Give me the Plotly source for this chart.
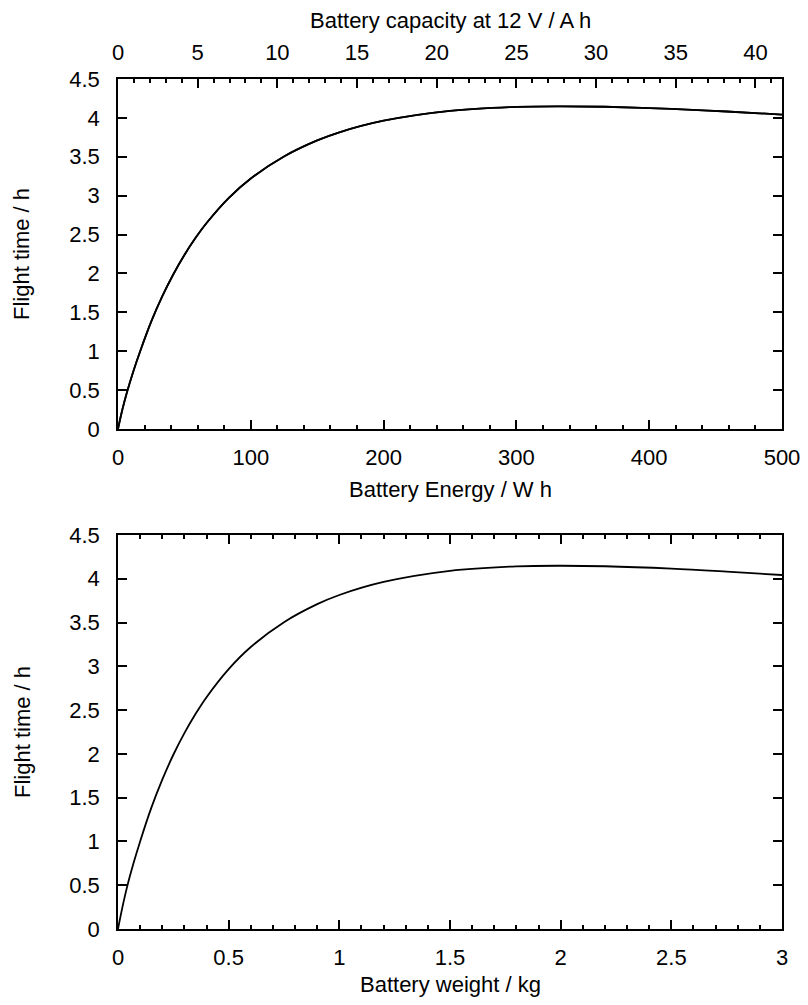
import plotly.graph_objects as go

# Data (same curve in both panels)
energy_wh = [0, 3.3, 6.7, 11.7, 16.7, 25, 33.3, 41.7, 50, 58.3, 66.7, 83.3, 100, 125, 150, 166.7,
             200, 250, 300, 333.3, 366.7, 416.7, 458.3, 500]
weight_kg = [0, 0.02, 0.04, 0.07, 0.1, 0.15, 0.2, 0.25, 0.3, 0.35, 0.4, 0.5, 0.6, 0.75, 0.9, 1.0,
             1.2, 1.5, 1.8, 2.0, 2.2, 2.5, 2.75, 3.0]
flight_h = [0, 0.25, 0.47, 0.75, 1.0, 1.38, 1.705, 1.99, 2.237, 2.455, 2.648, 2.969, 3.221, 3.504, 3.71, 3.815,
            3.964, 4.091, 4.142, 4.149, 4.143, 4.116, 4.082, 4.043]
battery_voltage = 12
capacity_ah = [e / battery_voltage for e in energy_wh]

energy_ticks = [0, 100, 200, 300, 400, 500]
capacity_ticks = [0, 5, 10, 15, 20, 25, 30, 35, 40]
weight_ticks = [0, 0.5, 1, 1.5, 2, 2.5, 3]
weight_ticktext = ["0", "0.5", "1", "1.5", "2", "2.5", "3"]
time_ticks = [0, 0.5, 1, 1.5, 2, 2.5, 3, 3.5, 4, 4.5]
time_ticktext = ["0", "0.5", "1", "1.5", "2", "2.5", "3", "3.5", "4", "4.5"]

W, H = 808, 1005
FONT = dict(family="Liberation Sans, Arial, sans-serif", size=22, color="black")

x0, x1 = 118, 782
top_y0, top_y1 = 79, 429
bot_y0, bot_y1 = 535, 929
xdom = [x0 / W, x1 / W]
ydom_top = [1 - top_y1 / H, 1 - top_y0 / H]
ydom_bot = [1 - bot_y1 / H, 1 - bot_y0 / H]

LINE = dict(color="black", width=1.8, shape="spline", smoothing=1.0)

fig = go.Figure()
fig.add_trace(go.Scatter(x=energy_wh, y=flight_h, mode="lines", line=LINE,
                         xaxis="x", yaxis="y", showlegend=False, hoverinfo="skip"))
fig.add_trace(go.Scatter(x=capacity_ah, y=flight_h, mode="lines", line=LINE,
                         xaxis="x3", yaxis="y", showlegend=False, hoverinfo="skip"))
fig.add_trace(go.Scatter(x=weight_kg, y=flight_h, mode="lines", line=LINE,
                         xaxis="x2", yaxis="y2", showlegend=False, hoverinfo="skip"))

common = dict(showline=True, linecolor="black", linewidth=1.6, ticks="inside", tickcolor="black", tickwidth=1.6,
              ticklen=9, showgrid=False, zeroline=False, tickfont=FONT, automargin=False)
MINOR = dict(ticks="inside", ticklen=4, tickcolor="black", tickwidth=1.6, showgrid=False)

fig.update_layout(
    width=W, height=H, margin=dict(l=0, r=0, t=0, b=0, pad=0),
    paper_bgcolor="white", plot_bgcolor="white", font=FONT,
    xaxis=dict(domain=xdom, anchor="y", range=[0, 500], tickvals=energy_ticks, mirror=False,
               minor=dict(dtick=20, **MINOR), ticklabelstandoff=8, **common),
    xaxis3=dict(domain=xdom, anchor="y", overlaying="x", side="top", range=[0, 500 / battery_voltage],
                tickvals=capacity_ticks, minor=dict(dtick=1, **MINOR), ticklabelstandoff=8, **common),
    yaxis=dict(domain=ydom_top, anchor="x", range=[0, 4.5], tickvals=time_ticks, ticktext=time_ticktext,
               mirror="ticks", ticklabelstandoff=12, **common),
    xaxis2=dict(domain=xdom, anchor="y2", range=[0, 3], tickvals=weight_ticks, ticktext=weight_ticktext,
                mirror="ticks", minor=dict(dtick=0.1, **MINOR), ticklabelstandoff=8, **common),
    yaxis2=dict(domain=ydom_bot, anchor="x2", range=[0, 4.5], tickvals=time_ticks, ticktext=time_ticktext,
                mirror="ticks", ticklabelstandoff=12, **common),
)

def label(text, px, py, angle=0):
    fig.add_annotation(text=text, xref="paper", yref="paper", x=px / W, y=1 - py / H,
                       xanchor="center", yanchor="middle", showarrow=False, textangle=angle, font=FONT)

xc = (x0 + x1) / 2
label("Battery capacity at 12 V / A h", xc, 21)
label("Battery Energy / W h", xc, 489)
label("Battery weight / kg", xc, 984)
label("Flight time / h", 22, (top_y0 + top_y1) / 2, -90)
label("Flight time / h", 22, (bot_y0 + bot_y1) / 2, -90)

fig.write_html("out.html")
